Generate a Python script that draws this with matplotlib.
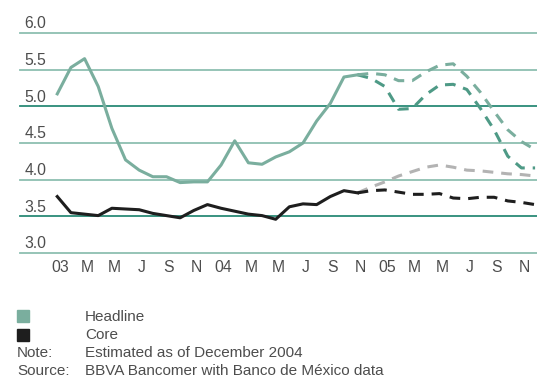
import matplotlib
matplotlib.use("Agg")
import matplotlib.pyplot as plt
import matplotlib.transforms as mtransforms

plt.rcParams['font.family'] = ['Liberation Sans', 'DejaVu Sans']

# ---- data (monthly, Jan 2003 = 0 ... Dec 2005 = 35) ----
headline_actual = [5.17, 5.53, 5.65, 5.27, 4.70, 4.27, 4.13, 4.04, 4.04, 3.96, 3.97, 3.97,
                   4.20, 4.53, 4.23, 4.21, 4.31, 4.38, 4.50, 4.80, 5.04, 5.40, 5.43]
core_actual = [3.77, 3.55, 3.53, 3.51, 3.61, 3.60, 3.59, 3.54, 3.51, 3.48, 3.58, 3.66,
               3.61, 3.57, 3.53, 3.51, 3.46, 3.63, 3.67, 3.66, 3.77, 3.85, 3.82]
headline_fc_high = [5.43, 5.45, 5.43, 5.35, 5.35, 5.47, 5.56, 5.58, 5.41, 5.19, 4.93, 4.68, 4.52, 4.41]
headline_fc_low = [5.43, 5.38, 5.27, 4.96, 4.97, 5.16, 5.29, 5.30, 5.23, 4.97, 4.68, 4.32, 4.16, 4.16]
core_fc_alt = [3.82, 3.90, 3.97, 4.05, 4.11, 4.17, 4.20, 4.17, 4.13, 4.12, 4.10, 4.08, 4.07, 4.05]
core_fc = [3.82, 3.85, 3.86, 3.83, 3.80, 3.80, 3.81, 3.75, 3.74, 3.76, 3.76, 3.71, 3.69, 3.66]
x_labels = ["03", "M", "M", "J", "S", "N", "04", "M", "M", "J", "S", "N",
            "05", "M", "M", "J", "S", "N"]
y_ticks = [3.0, 3.5, 4.0, 4.5, 5.0, 5.5, 6.0]

W, H = 537, 380
fig = plt.figure(figsize=(W / 100, H / 100), dpi=100)
ax_left, ax_right, ax_top, ax_bot = 20, 537, 33, 253
ax = fig.add_axes([ax_left / W, (H - ax_bot) / H, (ax_right - ax_left) / W, (ax_bot - ax_top) / H])

ax.set_xlim(-2.73, 35.14)
ax.set_ylim(3.0, 6.0)
for s in ax.spines.values():
    s.set_visible(False)

light_grid = '#8dbfb1'
dark_grid = '#2a8a76'
for v in y_ticks:
    c = dark_grid if v in (3.5, 5.0) else light_grid
    ax.axhline(v, color=c, lw=1.3, clip_on=False, zorder=1)

n_act = len(headline_actual)
xa = list(range(n_act))
xf = list(range(n_act - 1, n_act - 1 + len(core_fc)))

teal = '#7aae9e'
teal_dark = '#4e9a86'
grey = '#b3b3b3'
black = '#1e1e1e'
lw = 2.2
dash = (3.5, 2.6)

ax.plot(xf, core_fc_alt, color=grey, lw=lw, dashes=dash, zorder=3)
ax.plot(xf, headline_fc_low, color=teal_dark, lw=lw, dashes=dash, zorder=3)
ax.plot(xf, headline_fc_high, color=teal, lw=lw, dashes=dash, zorder=3)
ax.plot(xf, core_fc, color=black, lw=lw, dashes=dash, zorder=3)
ax.plot(xa, headline_actual, color=teal, lw=lw, zorder=4)
ax.plot(xa, core_actual, color=black, lw=lw, zorder=4)

# y labels above gridlines
txt_col = '#4d4d4d'
for v in y_ticks:
    ax.annotate(f"{v:.1f}", xy=(0, v), xycoords=('axes fraction', 'data'),
                xytext=(3.0, 3.4), textcoords='offset points',
                ha='left', va='baseline', fontsize=11.3, color=txt_col)
ax.set_yticks([])

ax.set_xticks(list(range(0, 2 * len(x_labels), 2)))
ax.set_xticklabels(x_labels, fontsize=11.3, color=txt_col)
ax.tick_params(axis='x', length=0, pad=5)
off = mtransforms.ScaledTranslation(2.5 / 100, 0, fig.dpi_scale_trans)
for lab in ax.get_xticklabels():
    lab.set_transform(lab.get_transform() + off)

# legend & notes
def fx(px):
    return px / W

def fy(py):
    return (H - py) / H

fig.patches.append(plt.Rectangle((fx(17), fy(322)), 12 / W, 12 / H, transform=fig.transFigure,
                                 color='#7aae9e', figure=fig))
fig.patches.append(plt.Rectangle((fx(17), fy(341)), 12 / W, 12 / H, transform=fig.transFigure,
                                 color='#1e1e1e', figure=fig))
fs = 11
fig.text(fx(85), fy(317), "Headline", fontsize=fs, color=txt_col, va='center', ha='left')
fig.text(fx(85), fy(335), "Core", fontsize=fs, color=txt_col, va='center', ha='left')
fig.text(fx(17), fy(353), "Note:", fontsize=fs, color=txt_col, va='center', ha='left')
fig.text(fx(85), fy(353), "Estimated as of December 2004", fontsize=fs, color=txt_col, va='center', ha='left')
fig.text(fx(17), fy(371), "Source:", fontsize=fs, color=txt_col, va='center', ha='left')
fig.text(fx(85), fy(371), "BBVA Bancomer with Banco de México data", fontsize=fs, color=txt_col, va='center', ha='left')

fig.savefig("out.png", dpi=100)
